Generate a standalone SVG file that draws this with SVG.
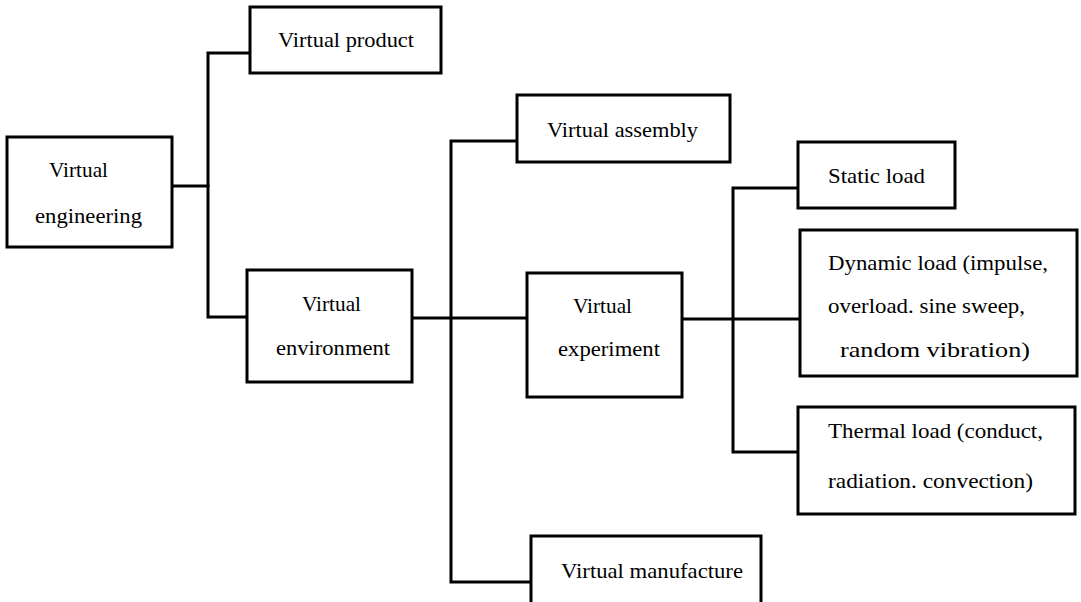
<svg xmlns="http://www.w3.org/2000/svg" width="1081" height="602" viewBox="0 0 1081 602">
<style>
  .box { fill: #ffffff; stroke: #000000; stroke-width: 3; }
  .conn { fill: none; stroke: #000000; stroke-width: 3; stroke-linecap: square; }
  .t { font-family: 'Liberation Serif', 'DejaVu Serif', 'Times New Roman', serif; font-size: 22px; fill: #000000; }
</style>
<rect x="0" y="0" width="1081" height="602" fill="#ffffff"/>
<g id="connectors">
  <polyline class="conn" points="172,186 208,186"/>
  <polyline class="conn" points="250,53 208,53 208,317 247,317"/>
  <polyline class="conn" points="412,318 527,318"/>
  <polyline class="conn" points="517,141 451,141 451,582 531,582"/>
  <polyline class="conn" points="682,319 800,319"/>
  <polyline class="conn" points="798,188 733,188 733,452 798,452"/>
</g>
<g id="virtual-engineering">
  <rect class="box" x="7" y="137" width="165" height="110"/>
  <text class="t" x="49" y="177" textLength="59" lengthAdjust="spacingAndGlyphs">Virtual</text>
  <text class="t" x="35" y="223" textLength="107" lengthAdjust="spacingAndGlyphs">engineering</text>
</g>
<g id="virtual-product">
  <rect class="box" x="250" y="7" width="191" height="66"/>
  <text class="t" x="278" y="47" textLength="136" lengthAdjust="spacingAndGlyphs">Virtual product</text>
</g>
<g id="virtual-environment">
  <rect class="box" x="247" y="270" width="165" height="112"/>
  <text class="t" x="302" y="311" textLength="59" lengthAdjust="spacingAndGlyphs">Virtual</text>
  <text class="t" x="276" y="355" textLength="114" lengthAdjust="spacingAndGlyphs">environment</text>
</g>
<g id="virtual-assembly">
  <rect class="box" x="517" y="95" width="213" height="67"/>
  <text class="t" x="547" y="137" textLength="151" lengthAdjust="spacingAndGlyphs">Virtual assembly</text>
</g>
<g id="virtual-experiment">
  <rect class="box" x="527" y="273" width="155" height="124"/>
  <text class="t" x="573" y="313" textLength="59" lengthAdjust="spacingAndGlyphs">Virtual</text>
  <text class="t" x="558" y="356" textLength="102" lengthAdjust="spacingAndGlyphs">experiment</text>
</g>
<g id="virtual-manufacture">
  <rect class="box" x="531" y="536" width="230" height="110"/>
  <text class="t" x="561" y="578" textLength="182" lengthAdjust="spacingAndGlyphs">Virtual manufacture</text>
</g>
<g id="static-load">
  <rect class="box" x="798" y="142" width="157" height="66"/>
  <text class="t" x="828" y="183" textLength="97" lengthAdjust="spacingAndGlyphs">Static load</text>
</g>
<g id="dynamic-load">
  <rect class="box" x="800" y="230" width="277" height="146"/>
  <text class="t" x="828" y="270" textLength="220" lengthAdjust="spacingAndGlyphs">Dynamic load (impulse,</text>
  <text class="t" x="828" y="313" textLength="197" lengthAdjust="spacingAndGlyphs">overload. sine sweep,</text>
  <text class="t" x="840" y="357" textLength="190" lengthAdjust="spacingAndGlyphs">random vibration)</text>
</g>
<g id="thermal-load">
  <rect class="box" x="798" y="407" width="277" height="107"/>
  <text class="t" x="828" y="438" textLength="215" lengthAdjust="spacingAndGlyphs">Thermal load (conduct,</text>
  <text class="t" x="828" y="488" textLength="205" lengthAdjust="spacingAndGlyphs">radiation. convection)</text>
</g>
</svg>
